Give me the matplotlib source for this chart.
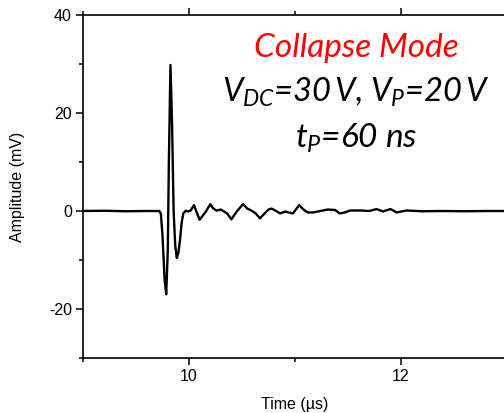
import matplotlib
matplotlib.use("Agg")
import matplotlib.pyplot as plt
from matplotlib.ticker import MultipleLocator, FuncFormatter

plt.rcParams['font.family'] = ['Liberation Sans', 'DejaVu Sans']
plt.rcParams['mathtext.fontset'] = 'custom'
plt.rcParams['mathtext.it'] = 'Lato:italic'
plt.rcParams['mathtext.rm'] = 'Lato:italic'
plt.rcParams['axes.unicode_minus'] = False

time_us = [9.00, 9.20, 9.40, 9.60, 9.72, 9.735, 9.75, 9.77, 9.785, 9.80, 9.81,
           9.825, 9.84, 9.855, 9.87, 9.885, 9.90, 9.915, 9.93, 9.946, 9.97,
           9.99, 10.015, 10.047, 10.07, 10.10, 10.135, 10.16, 10.20, 10.23,
           10.26, 10.30, 10.33, 10.36, 10.40, 10.45, 10.51, 10.55, 10.59,
           10.63, 10.67, 10.70, 10.75, 10.78, 10.83, 10.86, 10.91, 10.94,
           10.98, 11.04, 11.08, 11.12, 11.17, 11.24, 11.31, 11.38, 11.42,
           11.47, 11.52, 11.62, 11.70, 11.77, 11.83, 11.90, 11.96, 12.05,
           12.20, 12.40, 12.60, 12.80, 13.00]
amplitude_mV = [0.0, 0.05, -0.05, 0.0, 0.0, -0.6, -5.0, -14.0, -17.0, -8.0, 10.0,
                29.8, 18.0, 0.0, -7.0, -9.6, -8.5, -5.9, -2.5, -0.5, 0.07,
                -0.1, 0.07, 1.2, -0.1, -1.8, -0.8, -0.1, 1.4, 0.5,
                0.07, 0.3, -0.1, -0.5, -1.7, -0.1, 1.4, 0.5, 0.07,
                -0.5, -1.5, -0.8, 0.3, 0.5, -0.1, -0.5, -0.1, -0.3,
                -0.5, 1.2, 0.3, -0.3, -0.3, 0.0, 0.3, 0.2, -0.5,
                -0.3, 0.1, 0.1, 0.0, 0.4, -0.1, 0.4, -0.3, 0.1,
                -0.05, 0.0, -0.05, 0.0, 0.0]

fig = plt.figure(figsize=(5.04, 4.13), dpi=100)
ax = fig.add_axes([83/504, 55/413, 424/504, 343/413])
ax.plot(time_us, amplitude_mV, color='black', lw=1.7, solid_joinstyle='round')
ax.set_xlim(9, 13)
ax.set_ylim(-30, 40)
ax.xaxis.set_major_locator(MultipleLocator(2))
ax.xaxis.set_minor_locator(MultipleLocator(1))
ax.yaxis.set_major_locator(MultipleLocator(20))
ax.yaxis.set_minor_locator(MultipleLocator(10))
ax.yaxis.set_major_formatter(FuncFormatter(lambda v, p: f'{v:.0f}'))
ax.spines['right'].set_visible(False)
for s in ['left', 'bottom', 'top']:
    ax.spines[s].set_linewidth(1.2)
ax.tick_params(which='both', direction='out', top=True, right=False, width=1.1,
               labelsize=11.5, pad=3)
ax.tick_params(which='major', length=5)
ax.tick_params(which='minor', length=3)
ax.set_xlabel('Time (µs)', fontsize=11.5, labelpad=9)
ax.set_ylabel('Amplitude (mV)', fontsize=11.5, labelpad=17)

cx = 356/504
fig.text(cx, (413-57)/413, 'Collapse Mode', color='red', fontsize=24,
         family='Lato', style='italic', ha='center', va='baseline')
fig.text(cx, (413-102)/413, r'$V_{DC}$=30$\,$V, $V_{P}$=20$\,$V', color='black', fontsize=23.5,
         family='Lato', style='italic', ha='center', va='baseline')
fig.text(cx, (413-148)/413, r'$t_{P}$=60 ns', color='black', fontsize=24,
         family='Lato', style='italic', ha='center', va='baseline')

fig.savefig('out.png', dpi=100)
